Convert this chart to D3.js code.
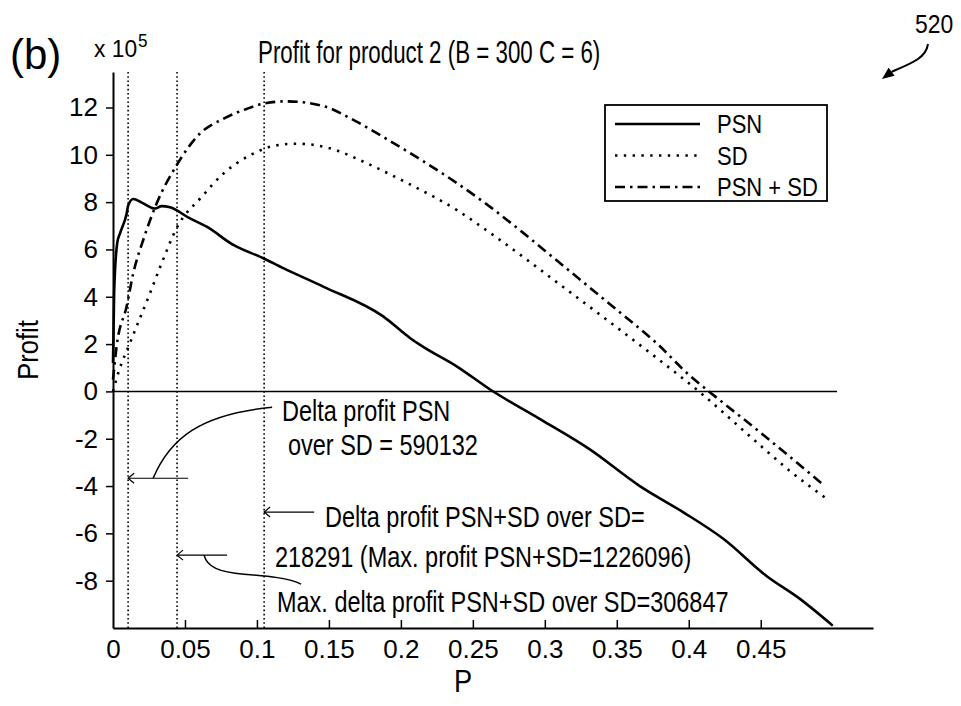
<html>
<script src="https://d3js.org/d3.v7.min.js"></script>
<style>
    body { margin: 0; background: #fff; }
    text { font-family: 'Liberation Sans', Arial, sans-serif; fill: #000; }
</style>
<body>
<svg id="chart" width="961" height="706"></svg>
<script>
    // profit values are in units of 1e5
    const psnP = [0, 0.0008, 0.003, 0.005, 0.0095, 0.0106, 0.0141, 0.02, 0.0292, 0.0338, 0.0396, 0.0535, 0.0651, 0.0836, 0.1044, 0.1183, 0.146, 0.1877, 0.2063, 0.215, 0.239, 0.262, 0.297, 0.331, 0.366, 0.396, 0.424, 0.454, 0.477, 0.5];
    const psnV = [1.2, 4.2, 6.3, 6.7, 7.52, 7.87, 8.13, 7.98, 7.73, 7.83, 7.78, 7.31, 6.96, 6.19, 5.63, 5.21, 4.43, 3.17, 2.26, 1.9, 1.05, 0.08, -1.18, -2.44, -4.0, -5.1, -6.23, -7.8, -8.76, -9.9];

    const sdP = [0, 0.0037, 0.0118, 0.0257, 0.0338, 0.0447, 0.0616, 0.0766, 0.0951, 0.1137, 0.1275, 0.1415, 0.1553, 0.1692, 0.1831, 0.2063, 0.239, 0.262, 0.285, 0.308, 0.331, 0.354, 0.378, 0.401, 0.407, 0.45, 0.47, 0.495];
    const sdV = [0, 0.79, 2.05, 4.15, 5.42, 6.96, 8.22, 9.2, 9.98, 10.4, 10.47, 10.4, 10.19, 9.84, 9.45, 8.75, 7.66, 6.7, 5.68, 4.63, 3.58, 2.52, 1.4, 0.3, 0, -2.3, -3.35, -4.5];

    const bothP = [0, 0.0025, 0.0095, 0.0141, 0.021, 0.0303, 0.0442, 0.0604, 0.0766, 0.0928, 0.1056, 0.1206, 0.146, 0.1692, 0.192, 0.215, 0.239, 0.262, 0.285, 0.308, 0.331, 0.354, 0.378, 0.401, 0.414, 0.45, 0.47, 0.492];
    const bothV = [0.5, 1.9, 3.6, 5.0, 6.4, 7.94, 9.56, 10.9, 11.52, 11.94, 12.18, 12.26, 12.06, 11.4, 10.6, 9.75, 8.8, 7.8, 6.7, 5.55, 4.4, 3.25, 2.02, 0.65, 0, -1.75, -2.75, -3.87];

    const markP = [0.0105, 0.0445, 0.105];       // dotted vertical markers
    const arrowP = [0.0105, 0.105, 0.0445];      // annotation arrows point at these
    const arrowV = [-3.67, -5.1, -6.92];

    const xTicks = [0, 0.05, 0.1, 0.15, 0.2, 0.25, 0.3, 0.35, 0.4, 0.45];
    const xTickLabels = ["0", "0.05", "0.1", "0.15", "0.2", "0.25", "0.3", "0.35", "0.4", "0.45"];
    const yTicks = [-8, -6, -4, -2, 0, 2, 4, 6, 8, 10, 12];

    const seriesNames = ["PSN", "SD", "PSN + SD"];
    const annotText = [
        "Delta profit PSN",
        "over SD = 590132",
        "Delta profit PSN+SD over SD=",
        "218291 (Max. profit PSN+SD=1226096)",
        "Max. delta profit PSN+SD over SD=306847"
    ];

    const svg = d3.select("#chart");

    const x = d3.scaleLinear().domain([0, 0.528]).range([113, 873]);
    const y = d3.scaleLinear().domain([-10, 13.5]).range([628, 72]);

    // narrow-looking text: Arial metrics squeezed horizontally
    function label(txt, px, py, size, sx, anchor, rotate) {
        let t = svg.append("text")
            .attr("transform", "translate(" + px + "," + py + ")" + (rotate ? " rotate(" + rotate + ")" : "") + " scale(" + sx + ",1)")
            .attr("font-size", size)
            .attr("text-anchor", anchor || "start")
            .text(txt);
        return t;
    }

    // axes
    const yAxis = d3.axisLeft(y)
        .tickValues(yTicks)
        .tickFormat(d => String(d))
        .tickSizeInner(7)
        .tickSizeOuter(0)
        .tickPadding(8);
    const gy = svg.append("g").attr("transform", "translate(" + x(0) + ",0)").call(yAxis);

    const xAxis = d3.axisBottom(x)
        .tickValues(xTicks)
        .tickFormat((d, i) => xTickLabels[i])
        .tickSizeInner(-8)
        .tickSizeOuter(0)
        .tickPadding(12);
    const gx = svg.append("g").attr("transform", "translate(0," + y(-10) + ")").call(xAxis);
    gx.selectAll(".tick").filter(d => d === 0).select("line").remove();

    [gx, gy].forEach(g => {
        g.select(".domain").attr("stroke", "#000").attr("stroke-width", 2);
        g.selectAll(".tick line").attr("stroke", "#000").attr("stroke-width", 1.5);
        g.selectAll(".tick text")
            .attr("font-size", 26)
            .attr("font-family", "'Liberation Sans', Arial, sans-serif")
            .attr("fill", "#000");
    });

    // zero line
    svg.append("line")
        .attr("x1", x(0)).attr("x2", x(0.503))
        .attr("y1", y(0)).attr("y2", y(0))
        .attr("stroke", "#000").attr("stroke-width", 1.5);

    // dotted markers
    svg.selectAll(".marker")
        .data(markP)
        .enter().append("line")
        .attr("class", "marker")
        .attr("x1", d => x(d)).attr("x2", d => x(d))
        .attr("y1", y(13.5)).attr("y2", y(-10))
        .attr("stroke", "#000").attr("stroke-width", 1.6)
        .attr("stroke-dasharray", "1.6,2.6");

    const line = d3.line()
        .x(d => x(d[0]))
        .y(d => y(d[1]))
        .curve(d3.curveMonotoneX);

    const styles = [
        {dash: null, width: 2.6},
        {dash: "2.4,6.4", width: 2.6},
        {dash: "10,5,2.5,5", width: 2.6}
    ];
    const series = [
        d3.zip(psnP, psnV),
        d3.zip(sdP, sdV),
        d3.zip(bothP, bothV)
    ];

    series.forEach((s, i) => {
        svg.append("path")
            .datum(s)
            .attr("d", line)
            .attr("fill", "none")
            .attr("stroke", "#000")
            .attr("stroke-width", styles[i].width)
            .attr("stroke-dasharray", styles[i].dash);
    });

    // legend
    const lg = svg.append("g");
    lg.append("rect")
        .attr("x", 605).attr("y", 105).attr("width", 222).attr("height", 96)
        .attr("fill", "#fff").attr("stroke", "#000").attr("stroke-width", 1.8);
    seriesNames.forEach((name, i) => {
        let ly = 124 + i * 31.5;
        lg.append("line")
            .attr("x1", 615).attr("x2", 700)
            .attr("y1", ly).attr("y2", ly)
            .attr("stroke", "#000")
            .attr("stroke-width", styles[i].width)
            .attr("stroke-dasharray", styles[i].dash);
        label(name, 717, ly + 9, 25, 0.88);
    });

    // annotation arrows
    const arrowLen = [60, 50, 50];
    arrowP.forEach((p, i) => {
        let tx = x(p), ty = y(arrowV[i]);
        svg.append("line")
            .attr("x1", tx).attr("x2", tx + arrowLen[i])
            .attr("y1", ty).attr("y2", ty)
            .attr("stroke", "#000").attr("stroke-width", 1.2);
        svg.append("path")
            .attr("d", "M" + (tx + 6) + "," + (ty - 5) + "L" + tx + "," + ty + "L" + (tx + 6) + "," + (ty + 5))
            .attr("fill", "none").attr("stroke", "#000").attr("stroke-width", 1.2);
    });
    // connector curves from arrows to their texts
    let a1x = x(arrowP[0]), a1y = y(arrowV[0]);
    svg.append("path")
        .attr("d", "M" + (a1x + 25) + "," + a1y + " C" + (a1x + 42) + "," + (a1y - 40) + " " + (a1x + 72) + "," + (a1y - 64) + " " + (a1x + 144) + "," + (a1y - 71))
        .attr("fill", "none").attr("stroke", "#000").attr("stroke-width", 1.5);
    let a3x = x(arrowP[2]), a3y = y(arrowV[2]);
    svg.append("path")
        .attr("d", "M" + (a3x + 27) + "," + a3y + " C" + (a3x + 30) + "," + (a3y + 12) + " " + (a3x + 42) + "," + (a3y + 17) + " " + (a3x + 67) + "," + (a3y + 19) +
            " C" + (a3x + 92) + "," + (a3y + 21) + " " + (a3x + 112) + "," + (a3y + 23) + " " + (a3x + 124) + "," + (a3y + 29))
        .attr("fill", "none").attr("stroke", "#000").attr("stroke-width", 1.5);

    // annotation text
    const annotPos = [[282, 421], [288, 455], [325, 527], [275, 567], [277, 612]];
    annotText.forEach((t, i) => label(t, annotPos[i][0], annotPos[i][1], 29, 0.81));

    // titles and labels
    label("Profit for product 2 (B = 300 C = 6)", 258, 63, 31, 0.72);
    label("(b)", 10, 69, 42, 1);
    label("x 10", 94, 57, 24, 0.95);
    label("5", 138, 47, 18, 0.95);
    label("Profit", 38, 350, 30, 0.85, "middle", -90);
    label("P", 463, 692, 32, 0.85, "middle");

    // figure reference number and arrow
    label("520", 915, 33, 26, 0.88);
    svg.append("path")
        .attr("d", "M928,44 C926,58 912,63 891.6,71.8")
        .attr("fill", "none").attr("stroke", "#000").attr("stroke-width", 2);
    svg.append("path")
        .attr("d", "M882,79 L894.6,75.8 L888.6,67.8 Z")
        .attr("fill", "#000");
</script>
</body>
</html>
